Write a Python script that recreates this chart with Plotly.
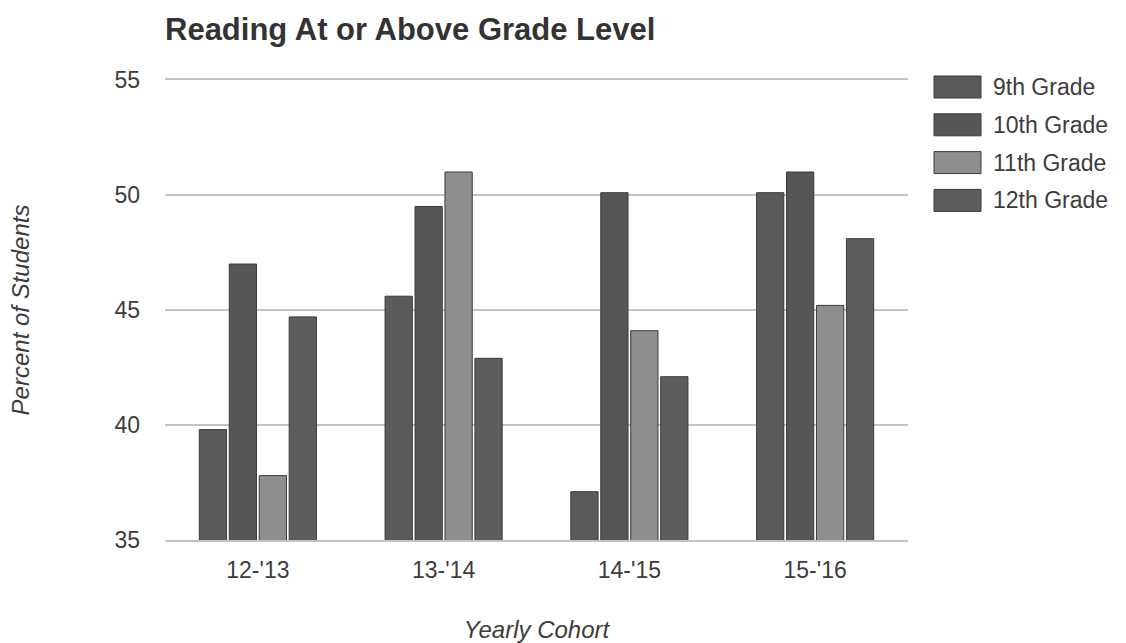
import plotly.graph_objects as go

# Cohort categories and percent of students reading at/above grade level
cohorts = ["12-'13", "13-'14", "14-'15", "15-'16"]
grade_9 = [39.8, 45.6, 37.1, 50.1]
grade_10 = [47.0, 49.5, 50.1, 51.0]
grade_11 = [37.8, 51.0, 44.1, 45.2]
grade_12 = [44.7, 42.9, 42.1, 48.1]

series_names = ["9th Grade", "10th Grade", "11th Grade", "12th Grade"]
series_values = [grade_9, grade_10, grade_11, grade_12]
series_colors = ["#5a5a5a", "#565656", "#8e8e8e", "#5d5d5d"]

font_family = "Liberation Sans, Arial, sans-serif"
text_color = "#3c3c3c"

# Plot-area geometry in pixels (used for the hand-drawn legend)
W, H = 1126, 643
L, R, T, B = 165, 218, 80, 103
plot_w = W - L - R
plot_h = H - T - B


def px_x(x):
    return (x - L) / plot_w


def px_y(y):
    return (H - B - y) / plot_h


fig = go.Figure()
for name, vals, color in zip(series_names, series_values, series_colors):
    fig.add_trace(go.Bar(
        x=cohorts, y=vals, name=name, showlegend=False,
        marker=dict(color=color, line=dict(color="#3a3a3a", width=1)),
    ))

# Legend: large rectangular swatches with labels to their right
shapes = []
annotations = []
for i, (name, color) in enumerate(zip(series_names, series_colors)):
    cy = 87 + i * 37.8
    shapes.append(dict(
        type="rect", xref="paper", yref="paper",
        x0=px_x(934), x1=px_x(981), y0=px_y(cy - 11), y1=px_y(cy + 11),
        fillcolor=color, line=dict(color="#3a3a3a", width=1),
    ))
    annotations.append(dict(
        text=name, xref="paper", yref="paper",
        x=px_x(991), y=px_y(cy), xanchor="left", yanchor="middle",
        showarrow=False, font=dict(size=23, color=text_color, family=font_family),
    ))

fig.update_layout(
    width=W, height=H,
    margin=dict(l=L, r=R, t=T, b=B, autoexpand=False),
    paper_bgcolor="white", plot_bgcolor="white",
    barmode="group", bargap=0.355, bargroupgap=0.09,
    showlegend=False,
    font=dict(family=font_family, color=text_color, size=23),
    title=dict(
        text="<b>Reading At or Above Grade Level</b>",
        font=dict(size=31, color="#333333", family=font_family),
        x=0, xref="paper", xanchor="left",
        y=1 - 29 / H, yanchor="middle",
    ),
    shapes=shapes,
    annotations=annotations,
    xaxis=dict(
        automargin=False,
        showgrid=False, ticks="",
        showline=True, mirror=True, linecolor="#c4c4c4", linewidth=2,
        ticklabelstandoff=8,
        tickfont=dict(size=23, color=text_color),
        title=dict(text="<i>Yearly Cohort</i>", standoff=40,
                   font=dict(size=24, color=text_color)),
    ),
    yaxis=dict(
        automargin=False,
        range=[35, 55], dtick=5, showgrid=True, gridcolor="#c4c4c4",
        gridwidth=2, zeroline=False, showline=False, ticks="",
        ticklabelstandoff=24,
        tickfont=dict(size=23, color=text_color),
        title=dict(text="<i>Percent of Students</i>", standoff=78,
                   font=dict(size=24, color=text_color)),
    ),
)

fig.write_html("out.html")
